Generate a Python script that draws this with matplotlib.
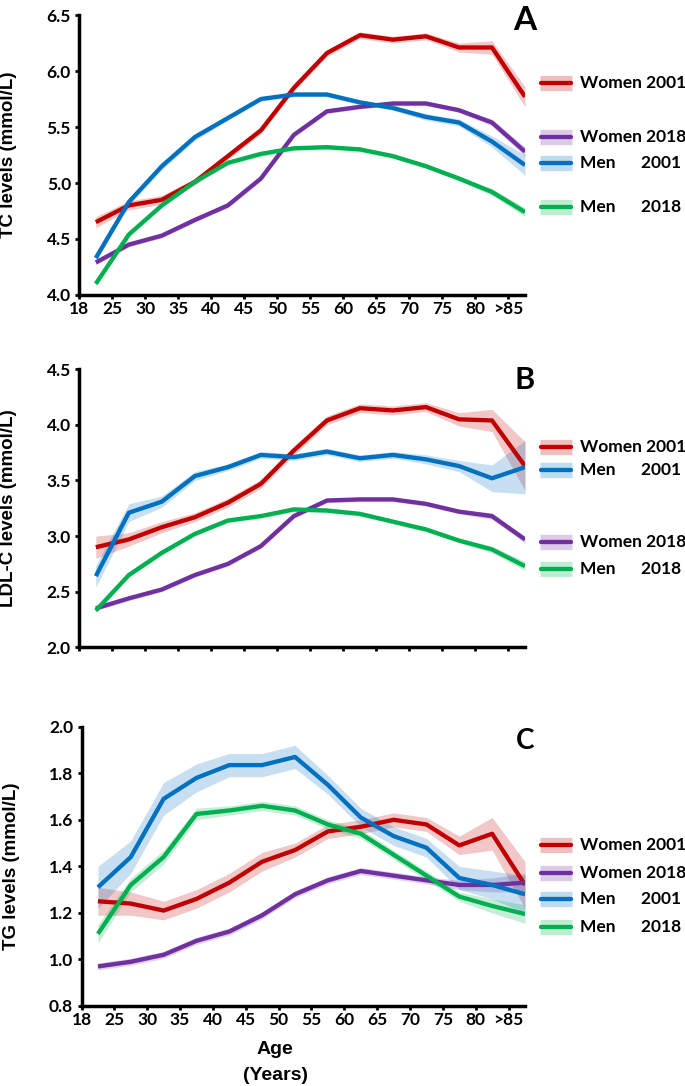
import numpy as np
import matplotlib
matplotlib.use("Agg")
import matplotlib.pyplot as plt
from matplotlib.transforms import blended_transform_factory

# age groups (points sit between tick marks)
AGE_TICKS = ['18', '25', '30', '35', '40', '45', '50', '55', '60', '65', '70', '75', '80', '>85']

SERIES = ['Women 2001', 'Women 2018', 'Men      2001', 'Men      2018']
COLORS = ['#C00000', '#7030A0', '#0070C0', '#00B050']

# total cholesterol (mmol/L)
tc_w01 = [4.65, 4.80, 4.85, 5.01, 5.24, 5.47, 5.85, 6.16, 6.32, 6.28, 6.31, 6.21, 6.21, 5.77]
tc_w18 = [4.29, 4.45, 4.53, 4.67, 4.80, 5.04, 5.43, 5.64, 5.68, 5.71, 5.71, 5.65, 5.54, 5.28]
tc_m01 = [4.33, 4.83, 5.15, 5.41, 5.58, 5.75, 5.79, 5.79, 5.72, 5.67, 5.59, 5.54, 5.37, 5.16]
tc_m18 = [4.10, 4.54, 4.80, 5.01, 5.18, 5.26, 5.31, 5.32, 5.30, 5.24, 5.15, 5.04, 4.92, 4.74]
tc_w01_ci = [0.05, 0.04, 0.04, 0.03, 0.03, 0.03, 0.03, 0.03, 0.03, 0.03, 0.03, 0.04, 0.06, 0.09]
tc_w18_ci = [0.02, 0.02, 0.02, 0.02, 0.02, 0.02, 0.02, 0.02, 0.02, 0.02, 0.02, 0.02, 0.03, 0.04]
tc_m01_ci = [0.03, 0.03, 0.03, 0.03, 0.02, 0.02, 0.02, 0.02, 0.02, 0.02, 0.03, 0.03, 0.05, 0.09]
tc_m18_ci = [0.02, 0.02, 0.02, 0.02, 0.02, 0.02, 0.02, 0.02, 0.02, 0.02, 0.02, 0.02, 0.03, 0.04]

# LDL cholesterol (mmol/L)
ldl_w01 = [2.90, 2.97, 3.08, 3.17, 3.30, 3.47, 3.77, 4.04, 4.15, 4.13, 4.16, 4.05, 4.04, 3.63]
ldl_w18 = [2.35, 2.44, 2.52, 2.65, 2.75, 2.91, 3.18, 3.32, 3.33, 3.33, 3.29, 3.22, 3.18, 2.97]
ldl_m01 = [2.64, 3.21, 3.31, 3.54, 3.62, 3.73, 3.71, 3.76, 3.70, 3.73, 3.69, 3.63, 3.52, 3.62]
ldl_m18 = [2.33, 2.65, 2.85, 3.02, 3.14, 3.18, 3.24, 3.23, 3.20, 3.13, 3.06, 2.96, 2.88, 2.73]
ldl_w01_ci = [0.10, 0.06, 0.05, 0.04, 0.04, 0.04, 0.04, 0.04, 0.04, 0.04, 0.04, 0.06, 0.10, 0.22]
ldl_w18_ci = [0.02, 0.02, 0.02, 0.02, 0.02, 0.02, 0.02, 0.02, 0.02, 0.02, 0.02, 0.02, 0.03, 0.03]
ldl_m01_ci = [0.10, 0.08, 0.05, 0.04, 0.03, 0.03, 0.03, 0.03, 0.03, 0.03, 0.04, 0.05, 0.12, 0.24]
ldl_m18_ci = [0.02, 0.02, 0.02, 0.02, 0.02, 0.02, 0.02, 0.02, 0.02, 0.02, 0.02, 0.02, 0.03, 0.04]

# triglycerides (mmol/L)
tg_w01 = [1.25, 1.24, 1.21, 1.26, 1.33, 1.42, 1.47, 1.55, 1.57, 1.60, 1.58, 1.49, 1.54, 1.32]
tg_w18 = [0.97, 0.99, 1.02, 1.08, 1.12, 1.19, 1.28, 1.34, 1.38, 1.36, 1.34, 1.32, 1.32, 1.33]
tg_m01 = [1.31, 1.44, 1.69, 1.78, 1.835, 1.835, 1.87, 1.75, 1.61, 1.53, 1.48, 1.35, 1.32, 1.28]
tg_m18 = [1.11, 1.32, 1.44, 1.625, 1.64, 1.66, 1.64, 1.58, 1.54, 1.45, 1.36, 1.27, 1.23, 1.195]
tg_w01_ci = [0.06, 0.05, 0.04, 0.04, 0.04, 0.04, 0.03, 0.03, 0.03, 0.03, 0.03, 0.04, 0.07, 0.10]
tg_w18_ci = [0.015, 0.015, 0.015, 0.015, 0.015, 0.015, 0.015, 0.015, 0.015, 0.015, 0.015, 0.02, 0.03, 0.04]
tg_m01_ci = [0.09, 0.07, 0.07, 0.06, 0.05, 0.05, 0.05, 0.04, 0.04, 0.04, 0.04, 0.05, 0.06, 0.08]
tg_m18_ci = [0.04, 0.03, 0.03, 0.025, 0.02, 0.02, 0.02, 0.02, 0.02, 0.02, 0.02, 0.02, 0.03, 0.04]

TICK_FONT = 'Lato'
LABEL_FONT = 'Liberation Sans'
W, H = 685, 1086

fig = plt.figure(figsize=(W / 100, H / 100), dpi=100)

panels = [
    dict(rect=[79.3 / W, 1 - 295 / H, 445.7 / W, 280 / H], ylim=(4.0, 6.5), yticks=np.arange(4.0, 6.51, 0.5),
         ylabel='TC levels (mmol/L)', letter='A', letter_top=6, letter_size=24,
         vals=[tc_w01, tc_w18, tc_m01, tc_m18], cis=[tc_w01_ci, tc_w18_ci, tc_m01_ci, tc_m18_ci],
         leg_y=[5.89, 5.41, 5.18, 4.79], xlabels=True),
    dict(rect=[79.3 / W, 1 - 647.3 / H, 445.7 / W, 278 / H], ylim=(2.0, 4.5), yticks=np.arange(2.0, 4.51, 0.5),
         ylabel='LDL-C levels (mmol/L)', letter='B', letter_top=366, letter_size=22,
         vals=[ldl_w01, ldl_w18, ldl_m01, ldl_m18], cis=[ldl_w01_ci, ldl_w18_ci, ldl_m01_ci, ldl_m18_ci],
         leg_y=[3.80, 2.95, 3.59, 2.70], xlabels=False),
    dict(rect=[81.5 / W, 1 - 1006 / H, 443.5 / W, 279.3 / H], ylim=(0.8, 2.0), yticks=np.arange(0.8, 2.01, 0.2),
         ylabel='TG levels (mmol/L)', letter='C', letter_top=728, letter_size=20,
         vals=[tg_w01, tg_w18, tg_m01, tg_m18], cis=[tg_w01_ci, tg_w18_ci, tg_m01_ci, tg_m18_ci],
         leg_y=[1.49, 1.37, 1.26, 1.14], xlabels=True),
]

x = np.arange(len(AGE_TICKS)) + 0.5

for p in panels:
    ax = fig.add_axes(p['rect'])
    for vals, ci, col in zip(p['vals'], p['cis'], COLORS):
        v = np.array(vals)
        c = np.array(ci)
        ax.fill_between(x, v - c, v + c, color=col, alpha=0.22, lw=0)
        ax.plot(x, v, color=col, lw=3.1, solid_capstyle='butt', solid_joinstyle='round')
    ax.set_xlim(0, 13.5)
    ax.set_ylim(*p['ylim'])
    ax.set_xticks(np.arange(len(AGE_TICKS)))
    if p['xlabels']:
        ax.set_xticklabels(AGE_TICKS, fontfamily=TICK_FONT, fontweight='bold', fontsize=12.5)
    else:
        ax.set_xticklabels([])
    ax.set_yticks(p['yticks'])
    ax.set_yticklabels(['{:.1f}'.format(t) for t in p['yticks']],
                       fontfamily=TICK_FONT, fontweight='bold', fontsize=12.5)
    for s in ['top', 'right']:
        ax.spines[s].set_visible(False)
    for s in ['left', 'bottom']:
        ax.spines[s].set_linewidth(2.5)
    ax.tick_params(axis='x', width=2, length=3, pad=1)
    ax.tick_params(axis='y', width=2, length=3, pad=3)
    ax.set_ylabel(p['ylabel'], fontfamily=LABEL_FONT, fontweight='bold', fontsize=13.5, va='center')
    ax.yaxis.set_label_coords((9 - 79.3) / 445.7, 0.5)

    fig.text(525 / W, 1 - p['letter_top'] / H, p['letter'], ha='center', va='top',
             fontfamily=TICK_FONT, fontweight='bold', fontsize=p['letter_size'])

    # direct legend at the right side
    tr = blended_transform_factory(fig.transFigure, ax.transData)
    for name, col, ly in zip(SERIES, COLORS, p['leg_y']):
        ax.plot([540 / W, 572 / W], [ly, ly], transform=tr, color=col, alpha=0.25,
                lw=11, solid_capstyle='butt', clip_on=False)
        ax.plot([541 / W, 571 / W], [ly, ly], transform=tr, color=col,
                lw=3.1, solid_capstyle='round', clip_on=False)
        ax.text(580 / W, ly, name, transform=tr, ha='left', va='center',
                fontfamily=TICK_FONT, fontweight='bold', fontsize=12.5)

fig.text(275 / W, 1 - 1050 / H, 'Age', ha='center', va='center',
         fontfamily=LABEL_FONT, fontweight='bold', fontsize=14)
fig.text(275 / W, 1 - 1075 / H, '(Years)', ha='center', va='center',
         fontfamily=LABEL_FONT, fontweight='bold', fontsize=14)

fig.savefig('out.png', dpi=100)
